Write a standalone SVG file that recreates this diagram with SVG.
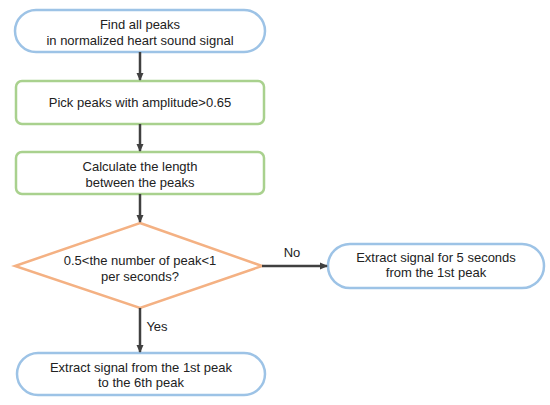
<svg xmlns="http://www.w3.org/2000/svg" width="550" height="405" viewBox="0 0 550 405">
<defs>
<marker id="ah" markerWidth="8" markerHeight="8" refX="7" refY="4" orient="auto" markerUnits="userSpaceOnUse">
<path d="M0,0.5 L8,4 L0,7.5 Z" fill="#404040"/>
</marker>
<style>
.term{fill:#fff;stroke:#9dc3e6;stroke-width:2.5}
.proc{fill:#fff;stroke:#a9d18e;stroke-width:2.5}
.dec{fill:#fff;stroke:#f4b183;stroke-width:2.5}
.conn{stroke:#404040;stroke-width:2.5;fill:none;marker-end:url(#ah)}
text{font-family:"Liberation Sans","Noto Sans",sans-serif;font-size:13px;fill:#222;text-anchor:middle}
</style>
</defs>
<rect width="550" height="405" fill="#fff"/>
<g id="n1">
<rect class="term" x="15" y="10" width="250" height="42" rx="21" ry="21"/>
<text x="140" y="29">Find all peaks</text>
<text x="140" y="45">in normalized heart sound signal</text>
</g>
<g id="n2">
<rect class="proc" x="16" y="81" width="248" height="43" rx="6"/>
<text x="140" y="107">Pick peaks with amplitude&gt;0.65</text>
</g>
<g id="n3">
<rect class="proc" x="16" y="152" width="248" height="42" rx="6"/>
<text x="140" y="171">Calculate the length</text>
<text x="140" y="187">between the peaks</text>
</g>
<g id="n4">
<polygon class="dec" points="140,223 262,266 140,308 15,266"/>
<text x="140" y="265">0.5&lt;the number of peak&lt;1</text>
<text x="140" y="281">per seconds?</text>
</g>
<g id="n5">
<rect class="term" x="17" y="353" width="248" height="42" rx="21" ry="21"/>
<text x="141" y="372">Extract signal from the 1st peak</text>
<text x="141" y="387">to the 6th peak</text>
</g>
<g id="n6">
<rect class="term" x="328" y="244" width="216" height="44" rx="22" ry="22"/>
<text x="436" y="262">Extract signal for 5 seconds</text>
<text x="436" y="277">from the 1st peak</text>
</g>
<g id="connectors">
<line class="conn" x1="140" y1="52" x2="140" y2="80"/>
<line class="conn" x1="140" y1="124" x2="140" y2="151"/>
<line class="conn" x1="140" y1="194" x2="140" y2="222"/>
<line class="conn" x1="140" y1="308" x2="140" y2="352"/>
<line class="conn" x1="262" y1="266" x2="327" y2="266"/>
<text x="157" y="331">Yes</text>
<text x="292" y="257">No</text>
</g>
</svg>
